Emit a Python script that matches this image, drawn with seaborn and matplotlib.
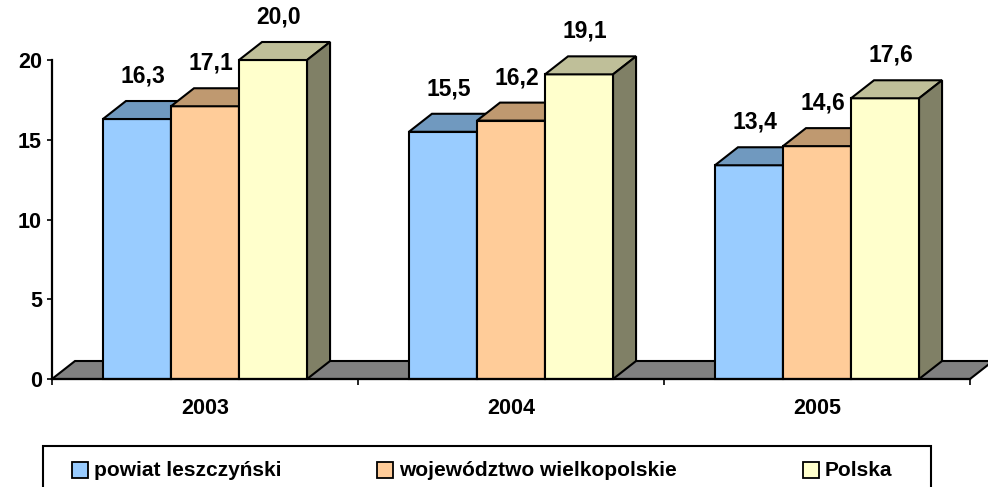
import numpy as np
import pandas as pd
import matplotlib
matplotlib.use("Agg")
import matplotlib.pyplot as plt
from matplotlib.patches import Polygon, Rectangle
import seaborn as sns

# ---- data ----
years = ["2003", "2004", "2005"]
series = ["powiat leszczyński", "województwo wielkopolskie", "Polska"]
powiat = [16.3, 15.5, 13.4]
wojewodztwo = [17.1, 16.2, 14.6]
polska = [20.0, 19.1, 17.6]
value_labels = [["16,3", "15,5", "13,4"], ["17,1", "16,2", "14,6"], ["20,0", "19,1", "17,6"]]
y_ticks = [0, 5, 10, 15, 20]

front_colors = ["#99CCFF", "#FFCC99", "#FFFFCC"]
top_colors = ["#7099BF", "#BF9970", "#BFBF99"]
side_colors = ["#4C6680", "#806650", "#808066"]

df = pd.DataFrame({
    "year": years * 3,
    "series": [s for s in series for _ in years],
    "value": powiat + wojewodztwo + polska,
})

sns.set_theme(style="white")
FONT = "Liberation Sans"
plt.rcParams["font.family"] = FONT
plt.rcParams["font.weight"] = "bold"
plt.rcParams["text.color"] = "black"
plt.rcParams["xtick.color"] = "black"
plt.rcParams["ytick.color"] = "black"
plt.rcParams["xtick.labelcolor"] = "black"
plt.rcParams["ytick.labelcolor"] = "black"

W, H = 988, 487
fig = plt.figure(figsize=(W / 100, H / 100), dpi=100)
ax = fig.add_axes([52 / W, (H - 379) / H, (970 - 52) / W, (379 - 60) / H])

sns.barplot(data=df, x="year", y="value", hue="series", hue_order=series,
            palette=front_colors, saturation=1, width=0.667, edgecolor="black",
            linewidth=1.5, ax=ax, legend=False, errorbar=None)

ax.set_xlim(-0.5, 2.5)
ax.set_ylim(0, 20)

# pseudo-3D depth in data units
px_x = 3.0 / (970 - 52)
px_y = 20.0 / (379 - 60)
dx = 23 * px_x
dy = 18 * px_y

# floor
floor = Polygon([(-0.5, 0), (2.5, 0), (2.5 + dx, dy), (-0.5 + dx, dy)], closed=True,
                facecolor="#808080", edgecolor="black", linewidth=1.5, zorder=1,
                clip_on=False)
ax.add_patch(floor)

for i, cont in enumerate(ax.containers):
    for j, bar in enumerate(cont.patches):
        x0 = bar.get_x()
        w = bar.get_width()
        x1 = x0 + w
        v = bar.get_height()
        z = 3 + i
        bar.set_zorder(z)
        bar.set_clip_on(False)
        top = Polygon([(x0, v), (x1, v), (x1 + dx, v + dy), (x0 + dx, v + dy)], closed=True,
                      facecolor=top_colors[i], edgecolor="black", linewidth=1.5,
                      zorder=z, clip_on=False)
        side = Polygon([(x1, 0), (x1 + dx, dy), (x1 + dx, v + dy), (x1, v)], closed=True,
                       facecolor=side_colors[i], edgecolor="black", linewidth=1.5,
                       zorder=z, clip_on=False)
        ax.add_patch(top)
        ax.add_patch(side)
        ax.text(x0 + w / 2 + 6 * px_x, v + 43 * px_y, value_labels[i][j],
                ha="center", va="center", fontsize=16.5, fontweight="bold",
                family=FONT, color="black", zorder=10, clip_on=False)

# axes styling
for s in ["top", "right"]:
    ax.spines[s].set_visible(False)
for s in ["left", "bottom"]:
    ax.spines[s].set_color("black")
    ax.spines[s].set_linewidth(1.6)
    ax.spines[s].set_zorder(8)

ax.set_yticks(y_ticks)
ax.set_yticklabels([str(t) for t in y_ticks], fontsize=15.5, fontweight="bold",
                   family=FONT, color="black")
ax.tick_params(axis="y", which="major", direction="out", length=3.6, width=1.2,
               color="black", pad=3.6, left=True)

ax.set_xticks([0, 1, 2])
ax.set_xticklabels(years, fontsize=15.5, fontweight="bold", family=FONT, color="black")
ax.tick_params(axis="x", which="major", length=0, pad=14)
ax.set_xticks([-0.5, 0.5, 1.5, 2.5], minor=True)
ax.tick_params(axis="x", which="minor", direction="out", length=4, width=1.2,
               color="black", bottom=True)
ax.set_xlabel("")
ax.set_ylabel("")
ax.grid(False)

# legend (box, swatches and labels placed in figure pixels)
def fx(px):
    return px / W

def fy(py):
    return (H - py) / H

fig.patches.append(Rectangle((fx(43), fy(490)), fx(931) - fx(43), fy(446) - fy(490),
                             transform=fig.transFigure, facecolor="white",
                             edgecolor="black", linewidth=1.5, zorder=1))
swatch_x = [72, 377, 803]
for k, (lab, col) in enumerate(zip(series, front_colors)):
    sx = swatch_x[k]
    fig.patches.append(Rectangle((fx(sx), fy(478)), fx(sx + 16) - fx(sx), fy(462) - fy(478),
                                 transform=fig.transFigure, facecolor=col,
                                 edgecolor="black", linewidth=1.3, zorder=2))
    fig.text(fx(sx + 22), fy(470), lab, ha="left", va="center", fontsize=15,
             fontweight="bold", family=FONT, color="black", zorder=3)

fig.savefig("out.png", dpi=100, facecolor="white")
